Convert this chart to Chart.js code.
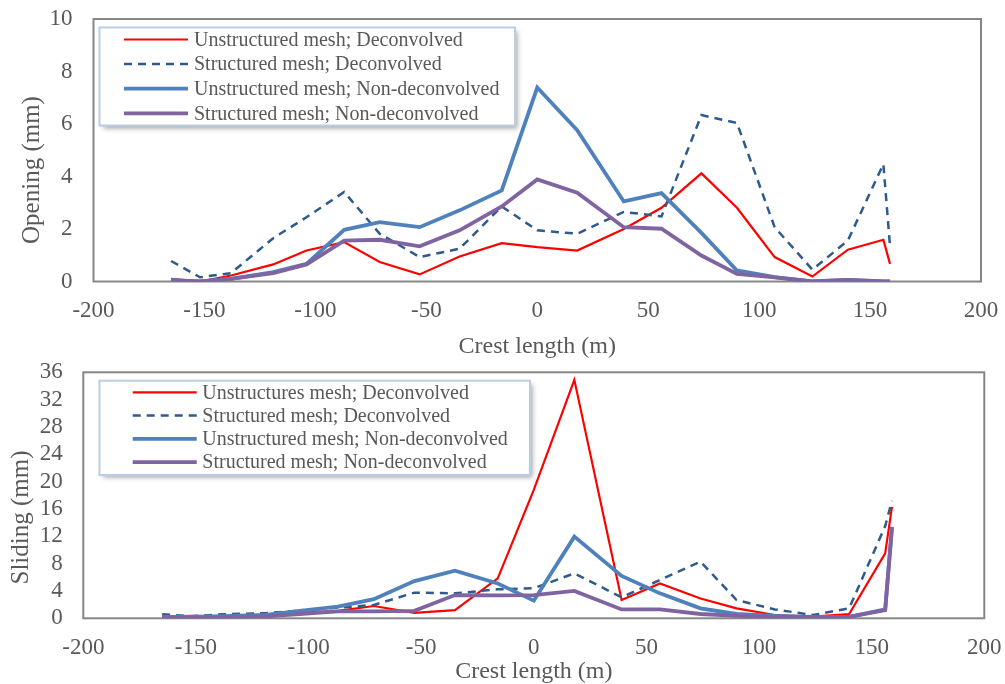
<!DOCTYPE html>
<html><head><meta charset="utf-8">
<script src="https://cdn.jsdelivr.net/npm/chart.js@4"></script>
<style>
html,body{margin:0;padding:0;background:#fff;overflow:hidden;width:1005px;height:684px}
#c1{position:absolute;left:0;top:0}
#c2{position:absolute;left:0;top:355px}
</style></head><body>
<canvas id="c1" width="1005" height="361"></canvas>
<canvas id="c2" width="1005" height="331"></canvas>
<script>
// ---- data ----
const crestLength = [-165,-152,-138,-119,-104,-87,-71,-53,-35,-16,0,18,39,56,74,90,107,124,140,156,159];

const openingLabels = ['Unstructured mesh; Deconvolved','Structured mesh; Deconvolved','Unstructured mesh; Non-deconvolved','Structured mesh; Non-deconvolved'];
const openingUnstrDeconv    = [0.1,0.0,0.23,0.65,1.18,1.5,0.74,0.27,0.95,1.46,1.31,1.18,2.0,2.81,4.12,2.81,0.93,0.19,1.21,1.59,0.67];
const openingStrDeconv      = [0.78,0.16,0.32,1.65,2.45,3.41,1.82,0.93,1.25,2.86,1.95,1.82,2.65,2.48,6.34,6.04,2.07,0.45,1.56,4.47,1.34];
const openingUnstrNonDeconv = [0.05,0.0,0.1,0.36,0.67,1.97,2.26,2.07,2.71,3.47,7.39,5.76,3.05,3.37,1.85,0.42,0.17,0.0,0.06,0.0,0.0];
const openingStrNonDeconv   = [0.04,0.0,0.1,0.32,0.65,1.56,1.59,1.34,1.95,2.86,3.89,3.38,2.07,2.01,0.99,0.29,0.16,0.0,0.06,0.0,0.0];

const slidingLabels = ['Unstructures mesh; Deconvolved','Structured mesh; Deconvolved','Unstructured mesh; Non-deconvolved','Structured mesh; Non-deconvolved'];
const slidingUnstrDeconv    = [0.25,0.35,0.3,0.45,0.8,1.1,1.8,0.8,1.2,5.85,18.8,34.9,2.68,5.1,2.9,1.46,0.48,0.25,0.63,9.5,16.3];
const slidingStrDeconv      = [0.6,0.3,0.6,0.75,1.1,1.55,1.95,3.75,3.65,4.24,4.4,6.58,3.07,5.6,8.3,2.68,1.3,0.48,1.46,13.5,17.2];
const slidingUnstrNonDeconv = [0.2,0.2,0.3,0.5,1.1,1.7,2.8,5.45,6.97,5.1,2.58,11.95,6.2,3.65,1.46,0.63,0.34,0.2,0.2,1.3,13.2];
const slidingStrNonDeconv   = [0.15,0.1,0.15,0.3,0.6,1.0,1.0,1.1,3.4,3.35,3.4,4.0,1.3,1.3,0.63,0.35,0.2,0.2,0.2,1.2,13.4];

const xTitle = 'Crest length (m)';
const openingTitle = 'Opening (mm)';
const slidingTitle = 'Sliding (mm)';

// ---- styles ----
const TEXT = '#595959';
const FONT = "'Liberation Serif', 'Times New Roman', serif";
Chart.defaults.font.family = FONT;
Chart.defaults.color = TEXT;

const seriesStyles = [
  {borderColor:'#FF0000', borderWidth:2.2, borderDash:[], order:4},
  {borderColor:'#2E5B8C', borderWidth:2.5, borderDash:[8,6], order:3},
  {borderColor:'#4F81BD', borderWidth:3.8, borderDash:[], order:2},
  {borderColor:'#8064A2', borderWidth:3.8, borderDash:[], order:1}
];

function toXY(vals){ return vals.map((v,i)=>({x:crestLength[i], y:v})); }

const framePlugin = {
  id:'frame',
  beforeDatasetsDraw(chart){
    const a = chart.chartArea, ctx = chart.ctx;
    ctx.save();
    ctx.strokeStyle = '#868686';
    ctx.lineWidth = 2;
    ctx.strokeRect(a.left, a.top, a.right - a.left, a.bottom - a.top);
    ctx.restore();
  }
};

const extrasPlugin = {
  id:'extras',
  afterDatasetsDraw(chart, args, opts){
    const ctx = chart.ctx;
    const L = opts.legend;
    ctx.save();
    ctx.shadowColor = 'rgba(0,0,0,0.35)';
    ctx.shadowBlur = 5;
    ctx.shadowOffsetX = 3;
    ctx.shadowOffsetY = 3;
    ctx.fillStyle = '#fff';
    ctx.fillRect(L.x, L.y, L.w, L.h);
    ctx.restore();
    ctx.save();
    ctx.strokeStyle = '#B9CDE5';
    ctx.lineWidth = 2;
    ctx.strokeRect(L.x, L.y, L.w, L.h);
    ctx.font = L.fontSize + 'px ' + FONT;
    ctx.textBaseline = 'middle';
    ctx.textAlign = 'left';
    chart.data.datasets.forEach((ds, i) => {
      const y = L.rowY + i * L.rowH;
      ctx.beginPath();
      ctx.strokeStyle = ds.borderColor;
      ctx.lineWidth = ds.borderWidth;
      ctx.setLineDash(ds.borderDash || []);
      ctx.moveTo(L.lineX1, y);
      ctx.lineTo(L.lineX2, y);
      ctx.stroke();
      ctx.setLineDash([]);
      ctx.fillStyle = TEXT;
      ctx.fillText(ds.label, L.textX, y + 1);
    });
    ctx.restore();
    const T = opts.yTitle;
    ctx.save();
    ctx.translate(T.x, T.y);
    ctx.rotate(-Math.PI/2);
    ctx.font = T.fontSize + 'px ' + FONT;
    ctx.fillStyle = TEXT;
    ctx.textAlign = 'center';
    ctx.textBaseline = 'middle';
    ctx.fillText(T.text, 0, 0);
    ctx.restore();
  }
};

function zeroPad(s){ s.paddingLeft = 0; s.paddingRight = 0; s.paddingTop = 0; s.paddingBottom = 0; }

function buildChart(id, labels, seriesArrays, yMax, yStep, geom){
  return new Chart(document.getElementById(id), {
    type:'line',
    data:{
      datasets: seriesArrays.map((vals,i)=>Object.assign({
        label: labels[i],
        data: toXY(vals),
        fill:false, tension:0, pointRadius:0, pointHoverRadius:0,
        borderJoinStyle:'miter', borderCapStyle:'butt'
      }, seriesStyles[i]))
    },
    options:{
      responsive:false, animation:false, events:[],
      layout:{padding:{left:0, right:geom.padRight, top:geom.padTop, bottom:0}},
      plugins:{
        legend:{display:false}, tooltip:{enabled:false},
        extras:{legend:geom.legend, yTitle:geom.yTitle}
      },
      scales:{
        x:{
          type:'linear', min:-200, max:200,
          grid:{display:false, drawTicks:false}, border:{display:false},
          ticks:{stepSize:50, padding:geom.xTickPad, color:TEXT, font:{size:23}, maxRotation:0, autoSkip:false},
          title:{display:true, text:xTitle, color:TEXT, font:{size:24}, padding:{top:0,bottom:0}},
          afterFit(s){ s.height = geom.xHeight; zeroPad(s); }
        },
        y:{
          min:0, max:yMax,
          grid:{display:false, drawTicks:false}, border:{display:false},
          ticks:{stepSize:yStep, padding:geom.yTickPad, color:TEXT, font:{size:23}, autoSkip:false},
          afterFit(s){ s.width = geom.yWidth; zeroPad(s); }
        }
      }
    },
    plugins:[framePlugin, extrasPlugin]
  });
}

buildChart('c1', openingLabels,
  [openingUnstrDeconv, openingStrDeconv, openingUnstrNonDeconv, openingStrNonDeconv], 10, 2, {
  padRight:24, padTop:19, xHeight:79.5, yWidth:93.5, xTickPad:15.5, yTickPad:21,
  legend:{x:99.5, y:27.5, w:415.5, h:98, rowY:39.5, rowH:24.6, lineX1:124, lineX2:188, textX:194, fontSize:20},
  yTitle:{x:32, y:170, text:openingTitle, fontSize:25}
});

buildChart('c2', slidingLabels,
  [slidingUnstrDeconv, slidingStrDeconv, slidingUnstrNonDeconv, slidingStrNonDeconv], 36, 4, {
  padRight:20.7, padTop:17.3, xHeight:67.7, yWidth:83.3, xTickPad:15.4, yTickPad:20.6,
  legend:{x:99.5, y:25.7, w:430.5, h:94.3, rowY:37.3, rowH:23.3, lineX1:132.7, lineX2:196.7, textX:202.3, fontSize:20},
  yTitle:{x:21.5, y:162.5, text:slidingTitle, fontSize:25}
});
</script>
</body></html>
